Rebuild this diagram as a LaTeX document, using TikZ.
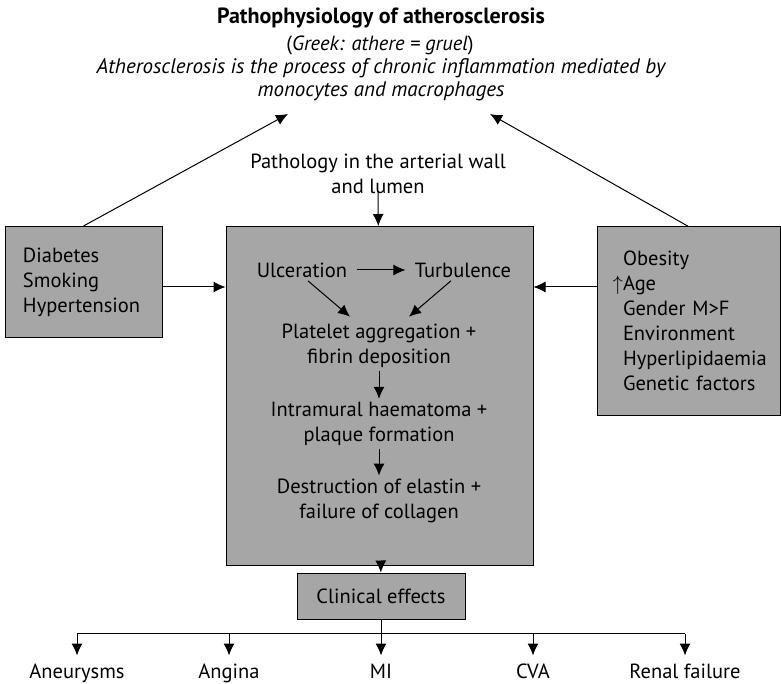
\documentclass[tikz,border=0pt]{standalone}
\usepackage{fontspec}
\setmainfont{PT Sans}
\usetikzlibrary{arrows.meta, positioning}

\begin{document}
\begin{tikzpicture}[x=1pt, y=-1pt, font=\fontsize{20.5}{25}\selectfont,
	box/.style={draw, line width=1pt, fill=black!35},
	inbox/.style={align=center, inner sep=3pt},
	>={Latex[length=12pt, width=11pt]}, line width=1pt]

	\useasboundingbox (0,0) rectangle (781,684);

	% heading
	\node[inbox, font=\fontsize{22}{25}\selectfont\bfseries] (title) at (381,18) {Pathophysiology of atherosclerosis};
	\node[inbox] (greek) at (380,45) {(\textit{Greek: athere = gruel})};
	\node[inbox, font=\fontsize{21}{23}\selectfont\itshape] (defn) at (381,80)
		{Atherosclerosis is the process of chronic inflammation mediated by\\monocytes and macrophages};
	\coordinate (tipL) at (288,114);
	\coordinate (tipR) at (490,114);

	% boxes
	\node[box, minimum width=157, minimum height=111] (lbox) at (83.5,282) {};
	\node[box, minimum width=183, minimum height=188] (rbox) at (688.5,321) {};
	\node[box, minimum width=307, minimum height=339] (main) at (379.5,396) {};
	\node[box, minimum width=168, minimum height=46] (clin) at (381,596) {Clinical effects};

	\node[align=left, text width=121, inner xsep=0pt] (risk1) at (lbox) {Diabetes\\Smoking\\Hypertension};
	\node[align=left, text width=150, inner xsep=0pt] (risk2) at ([xshift=9.5pt]rbox.center)
		{Obesity\\\leavevmode\llap{$\uparrow$}Age\\Gender M>F\\Environment\\Hyperlipidaemia\\Genetic factors};

	\node[inbox] (wall) at (378,174) {Pathology in the arterial wall\\and lumen};

	% inside the main box
	\node[inbox] (ulc) at (302,270) {Ulceration};
	\node[inbox] (turb) at (463,270) {Turbulence};
	\node[inbox] (plat) at (379,346) {Platelet aggregation +\\fibrin deposition};
	\node[inbox] (intra) at (379,424) {Intramural haematoma +\\plaque formation};
	\node[inbox] (destr) at (379,501) {Destruction of elastin +\\failure of collagen};

	% effects
	\node[inbox, anchor=base] (aneu) at (77,678) {Aneurysms};
	\node[inbox, anchor=base] (angina) at (229,678) {Angina};
	\node[inbox, anchor=base] (mi) at (381,678) {MI};
	\node[inbox, anchor=base] (cva) at (533,678) {CVA};
	\node[inbox, anchor=base] (renal) at (685,678) {Renal failure};
	\coordinate[below=14pt of clin] (fork);

	\draw[->] (lbox.north) -- (tipL);
	\draw[->] (rbox.north) -- (tipR);
	\draw[->] ([yshift=6pt]wall.south) -- (main);

	\coordinate (riskL) at ([yshift=-5pt]lbox.east);
	\draw[->] (riskL) -- (riskL -| main.west);
	\draw[->] (riskL -| rbox.west) -- (riskL -| main.east);

	\draw[->, shorten <=6pt, shorten >=6pt] (ulc) -- (turb);
	\draw[->] ([xshift=6pt]ulc.south) -- ([xshift=-29pt, yshift=4pt]plat.north);
	\draw[->] ([xshift=-12pt]turb.south) -- ([xshift=30pt, yshift=4pt]plat.north);
	\draw[->] (plat) -- (intra);
	\draw[->] (intra) -- (destr);

	\draw[->] (main) -- (clin);
	\draw (clin) -- (fork);
	\draw (fork -| aneu) -- (fork -| renal);
	\foreach \n in {aneu, angina, mi, cva, renal}
		\draw[->] (fork -| \n) -- ++(0,22);

\end{tikzpicture}
\end{document}
